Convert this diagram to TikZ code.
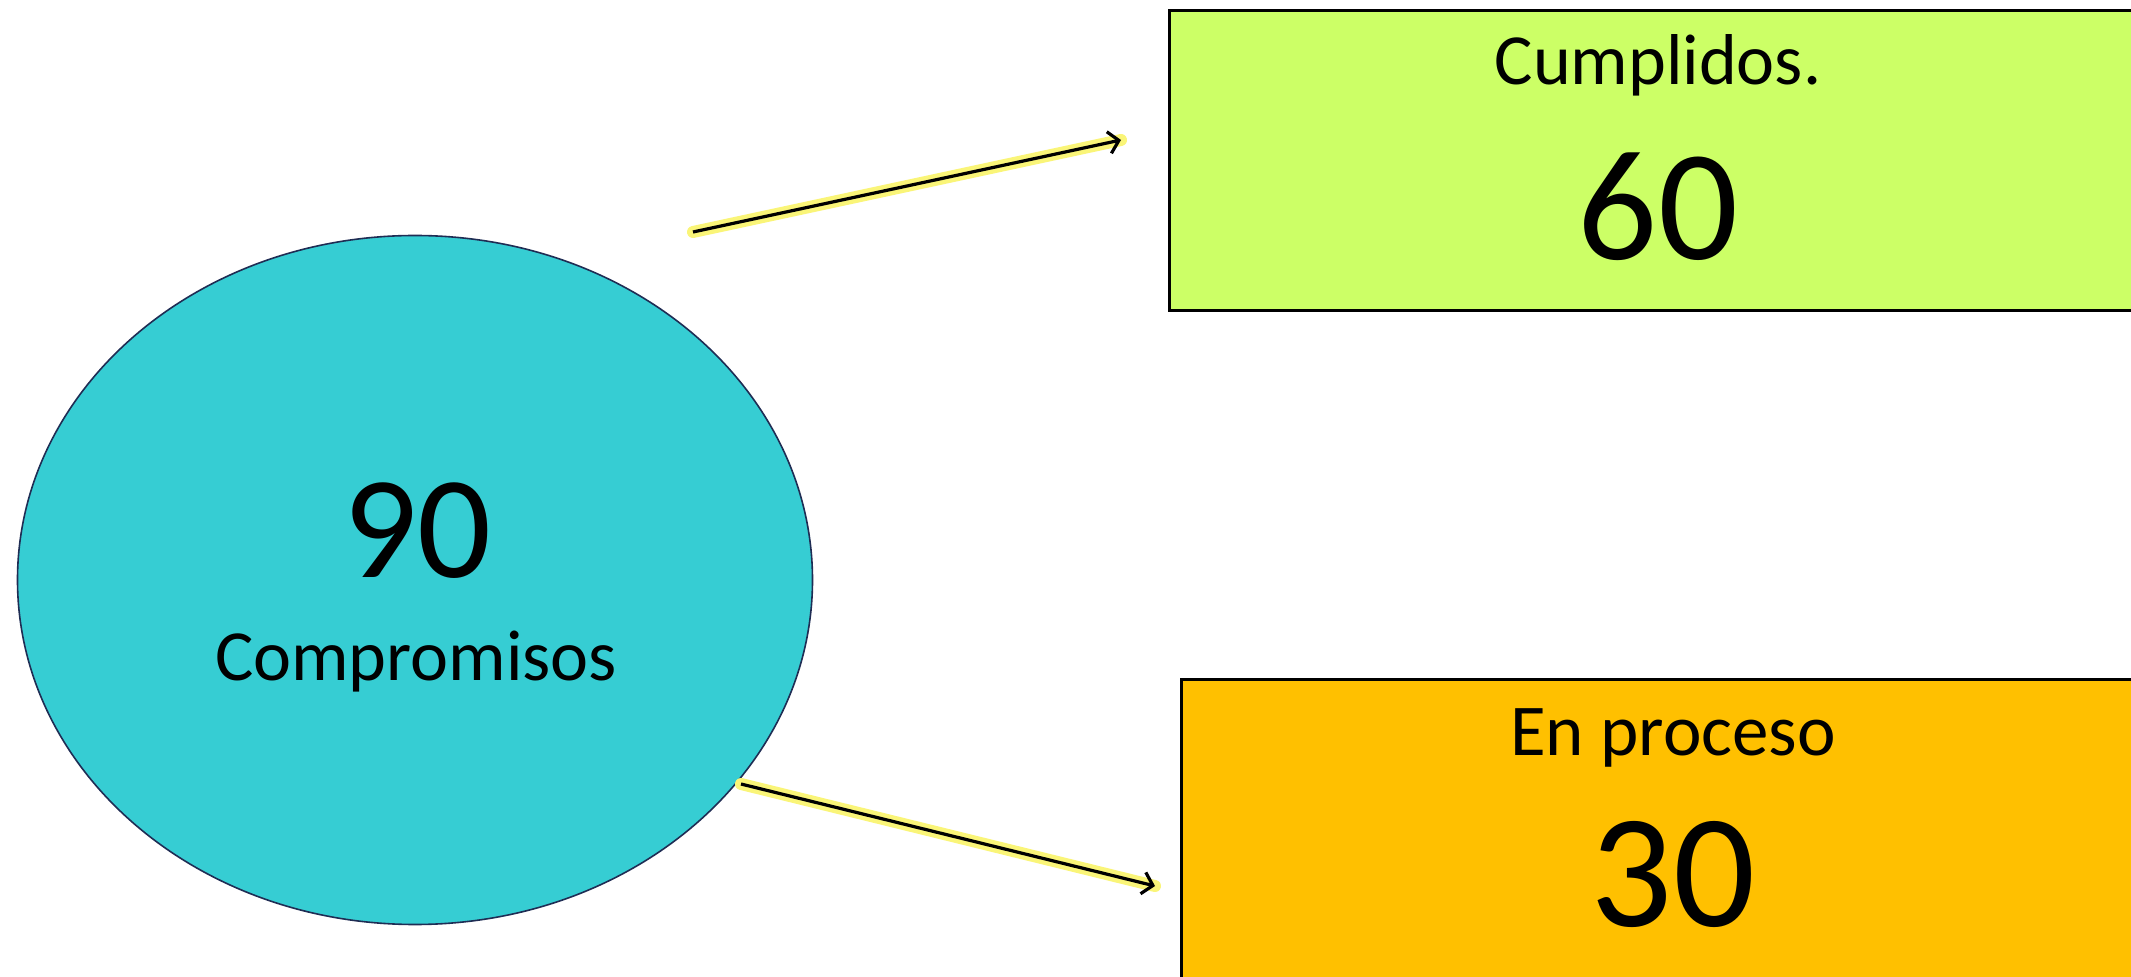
\documentclass[tikz,border=0pt]{standalone}
\usepackage{fontspec}
\setmainfont{Carlito}
\usetikzlibrary{positioning,shapes.geometric,arrows.meta}
\definecolor{turq}{RGB}{54,205,211}
\definecolor{lima}{RGB}{204,255,102}
\definecolor{ambar}{RGB}{255,192,0}
\definecolor{marino}{RGB}{31,45,84}
\definecolor{brillo}{RGB}{250,245,120}
\tikzset{caja/.style = {rectangle,draw=black,line width=1.5pt,inner sep=0pt},
         flecha/.style = {-{Straight Barb[length=5pt,width=11pt,line width=1.6pt]},line width=1.6pt,
                          preaction={draw=brillo,line width=6pt,line cap=round,-}}}

\begin{document}
\begin{tikzpicture}[x=0.5pt,y=-0.5pt]
    \useasboundingbox (0,0) rectangle (2131,977);
    \clip (0,0) rectangle (2131,977);
    \fill[white] (0,0) rectangle (2131,977);
    % circulo central
    \node[ellipse,draw=marino,line width=0.8pt,fill=turq,
          minimum width=397.5pt,minimum height=344.5pt] (total) at (415,580) {};
    \node[font=\fontsize{73}{80}\selectfont] (num) at (417,531) {90};
    \node[font=\fontsize{36}{42}\selectfont] (comp) at (416,662) {Compromisos};
    % cajas
    \node[caja,fill=lima,minimum width=489pt,minimum height=150pt] (hechos) at (1658,161) {};
    \node[font=\fontsize{36}{42}\selectfont] (hechos-t) at (1658,65) {Cumplidos.};
    \node[font=\fontsize{79}{86}\selectfont] (hechos-n) at (1658,207) {60};
    \node[caja,fill=ambar,minimum width=492pt,minimum height=170pt] (proceso) at (1673,850) {};
    \node[font=\fontsize{36.5}{43}\selectfont] (proceso-t) at (1673,738) {En proceso};
    \node[font=\fontsize{81}{88}\selectfont] (proceso-n) at (1673,874) {30};
    % flechas
    \coordinate (a1) at (693,232);
    \coordinate (a2) at (1121,140);
    \coordinate (b1) at (741,784);
    \coordinate (b2) at (1155,886);
    \draw[flecha] (a1) -- (a2);
    \draw[flecha] (b1) -- (b2);
\end{tikzpicture}
\end{document}
